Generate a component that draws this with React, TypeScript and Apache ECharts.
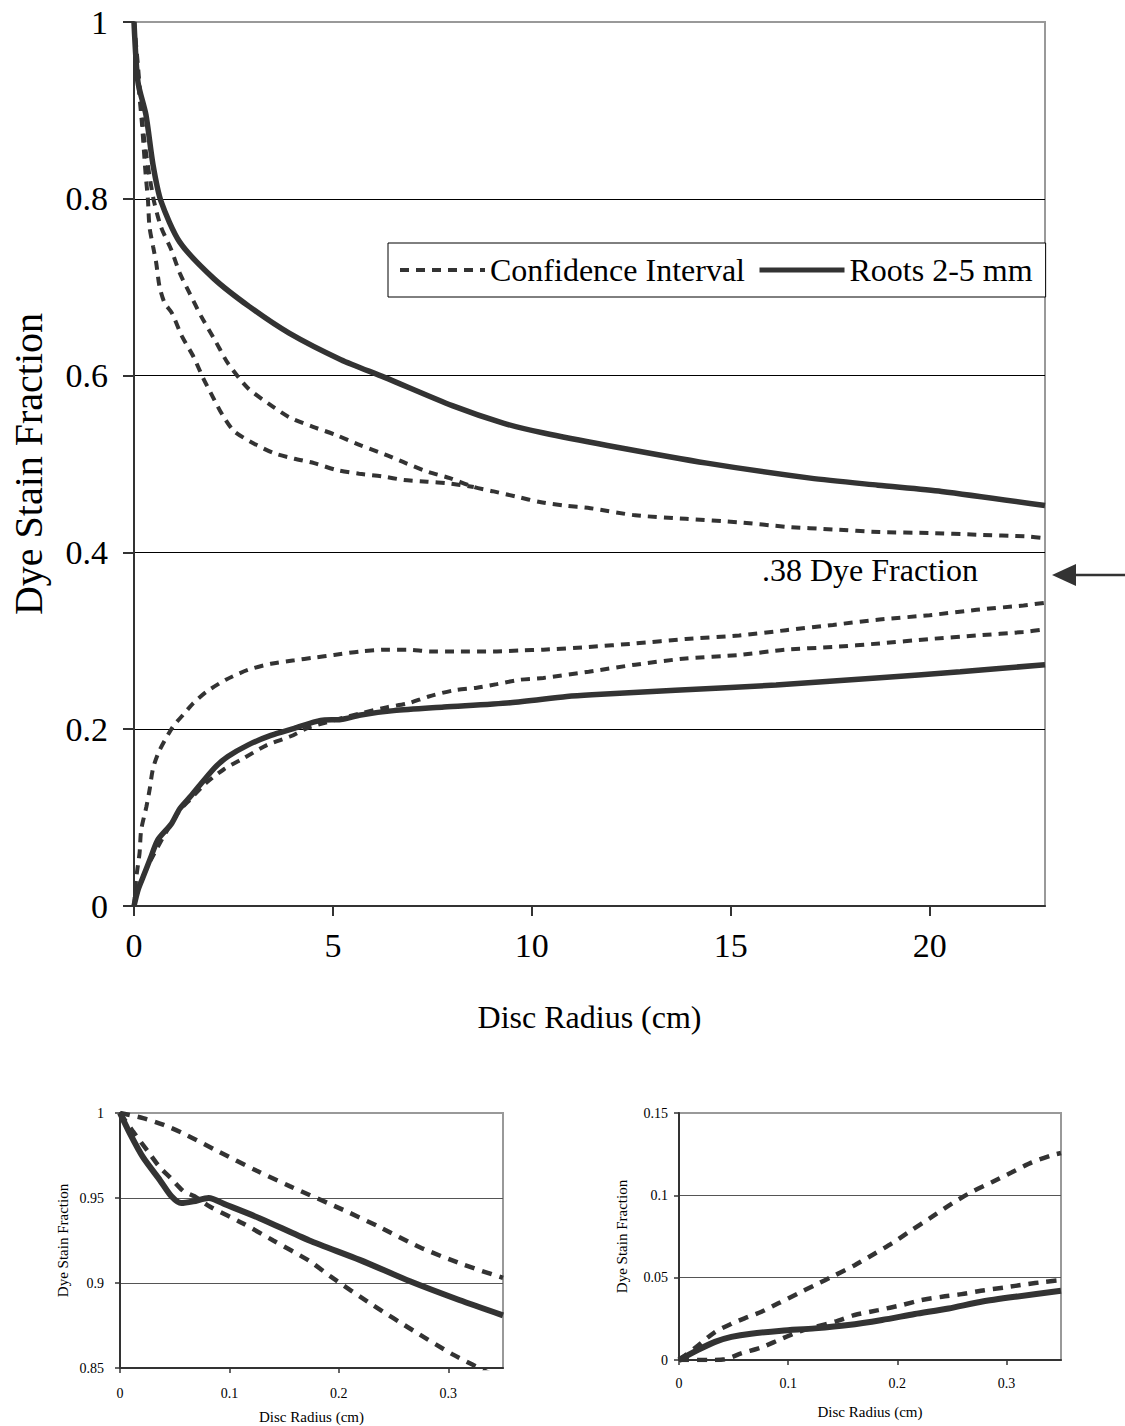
import React, { useEffect, useRef } from "react";
import * as echarts from "echarts";

// ---------- Main chart data: [disc radius (cm), dye stain fraction] ----------
const rootsUpper: [number, number][] = [
  [0, 1], [0.1, 0.932], [0.3, 0.895], [0.48, 0.838], [0.68, 0.797], [1.15, 0.751],
  [2.0, 0.71], [2.9, 0.678], [3.9, 0.648], [5.2, 0.618], [6.3, 0.598], [8.0, 0.566],
  [9.3, 0.546], [10.3, 0.535], [11.9, 0.521], [14.4, 0.501], [17.0, 0.484],
  [18.7, 0.476], [20.3, 0.469], [22.9, 0.453],
];
const rootsLower: [number, number][] = [
  [0, 0], [0.1, 0.018], [0.23, 0.033], [0.43, 0.056], [0.6, 0.075], [0.94, 0.093],
  [1.15, 0.11], [1.44, 0.125], [2.02, 0.156], [2.36, 0.169], [2.86, 0.182],
  [3.44, 0.193], [4.03, 0.201], [4.69, 0.21], [5.2, 0.211], [5.7, 0.216],
  [6.53, 0.221], [7.79, 0.225], [9.46, 0.23], [10.88, 0.237], [11.51, 0.239],
  [13.61, 0.244], [16.14, 0.25], [18.66, 0.258], [20.77, 0.265], [22.9, 0.273],
];
const ciUpperA: [number, number][] = [
  [0, 1], [0.1, 0.95], [0.25, 0.87], [0.48, 0.802], [0.68, 0.768], [0.94, 0.742],
  [1.15, 0.716], [1.4, 0.693], [1.69, 0.667], [2.06, 0.638], [2.36, 0.614],
  [2.86, 0.586], [3.36, 0.569], [3.9, 0.553], [4.5, 0.542], [5.07, 0.533],
  [5.7, 0.521], [6.3, 0.511], [6.83, 0.501], [7.4, 0.491], [7.94, 0.484],
  [8.54, 0.474], [9.04, 0.469], [9.62, 0.463], [10.2, 0.457], [10.8, 0.453],
  [11.47, 0.45], [12.6, 0.442], [13.87, 0.438], [15.21, 0.434], [16.39, 0.429],
  [17.57, 0.426], [18.74, 0.423], [20.0, 0.422], [21.18, 0.42], [22.45, 0.418],
  [22.9, 0.416],
];
const ciUpperB: [number, number][] = [
  [0, 1], [0.1, 0.935], [0.2, 0.885], [0.29, 0.829], [0.35, 0.799], [0.39, 0.768],
  [0.48, 0.746], [0.56, 0.727], [0.64, 0.701], [0.77, 0.682], [0.95, 0.671],
  [1.2, 0.645], [1.5, 0.621], [1.73, 0.598], [1.98, 0.576], [2.23, 0.555],
  [2.52, 0.537], [3.02, 0.523], [3.53, 0.512], [4.03, 0.506], [4.53, 0.501],
  [5.11, 0.493], [5.66, 0.489], [6.24, 0.486], [6.78, 0.482], [7.37, 0.48],
  [7.9, 0.478], [8.54, 0.474],
];
const ciLowerC: [number, number][] = [
  [0, 0], [0.06, 0.033], [0.14, 0.06], [0.18, 0.086], [0.31, 0.112], [0.39, 0.131],
  [0.48, 0.156], [0.64, 0.176], [0.98, 0.203], [1.23, 0.216], [1.48, 0.229],
  [1.81, 0.242], [2.31, 0.256], [2.86, 0.267], [3.44, 0.274], [4.03, 0.278],
  [4.53, 0.281], [5.03, 0.284], [5.7, 0.288], [6.37, 0.29], [6.87, 0.29],
  [7.45, 0.288], [8.04, 0.288], [9.12, 0.288], [9.71, 0.289], [10.29, 0.29],
  [11.43, 0.293], [12.6, 0.297], [13.87, 0.302], [15.21, 0.306], [16.39, 0.312],
  [17.57, 0.318], [18.74, 0.324], [20.0, 0.329], [21.18, 0.335], [22.36, 0.34],
  [22.9, 0.343],
];
const ciLowerD: [number, number][] = [
  [0, 0], [0.1, 0.02], [0.4, 0.05], [0.8, 0.083], [1.15, 0.108], [1.4, 0.12],
  [1.81, 0.139], [2.27, 0.155], [2.75, 0.167], [3.34, 0.182], [3.94, 0.192],
  [4.4, 0.202], [5.7, 0.218], [6.37, 0.225], [6.87, 0.229], [7.41, 0.237],
  [8.04, 0.244], [8.62, 0.247], [9.12, 0.251], [9.71, 0.256], [10.29, 0.258],
  [11.43, 0.265], [12.6, 0.273], [13.87, 0.28], [15.21, 0.284], [16.39, 0.29],
  [17.57, 0.293], [18.74, 0.297], [20.0, 0.302], [21.18, 0.306], [22.36, 0.31],
  [22.9, 0.313],
];

// ---------- Inset 1 (upper curve near centre) ----------
const inset1Roots: [number, number][] = [
  [0, 1], [0.009, 0.988], [0.021, 0.974], [0.0365, 0.9605], [0.047, 0.951],
  [0.056, 0.947], [0.067, 0.948], [0.081, 0.95], [0.097, 0.946], [0.128, 0.938],
  [0.173, 0.925], [0.219, 0.9136], [0.265, 0.901], [0.31, 0.89], [0.35, 0.881],
];
const inset1CiHigh: [number, number][] = [
  [0, 1], [0.021, 0.997], [0.04, 0.993], [0.061, 0.987], [0.091, 0.977],
  [0.125, 0.966], [0.155, 0.957], [0.204, 0.943], [0.237, 0.933], [0.274, 0.921],
  [0.313, 0.911], [0.35, 0.903],
];
const inset1CiLow: [number, number][] = [
  [0, 1], [0.012, 0.989], [0.026, 0.977], [0.0365, 0.968], [0.046, 0.962],
  [0.058, 0.954], [0.068, 0.951], [0.082, 0.945], [0.1125, 0.935], [0.14, 0.925],
  [0.173, 0.913], [0.192, 0.904], [0.231, 0.887], [0.268, 0.872], [0.304, 0.858],
  [0.322, 0.852], [0.35, 0.843],
];

// ---------- Inset 2 (lower curve near centre) ----------
const inset2Roots: [number, number][] = [
  [0, 0], [0.017, 0.006], [0.033, 0.011], [0.048, 0.014], [0.066, 0.016],
  [0.094, 0.0178], [0.1245, 0.0192], [0.155, 0.0212], [0.186, 0.0243],
  [0.216, 0.0279], [0.247, 0.0313], [0.277, 0.0354], [0.308, 0.0384], [0.35, 0.042],
];
const inset2CiHigh: [number, number][] = [
  [0, 0], [0.016, 0.008], [0.033, 0.017], [0.048, 0.022], [0.06, 0.0253],
  [0.0756, 0.0293], [0.091, 0.0344], [0.109, 0.0404], [0.1245, 0.0455],
  [0.143, 0.0515], [0.161, 0.0576], [0.1795, 0.0647], [0.195, 0.0708],
  [0.213, 0.0788], [0.2316, 0.0869], [0.25, 0.095], [0.268, 0.102],
  [0.2866, 0.108], [0.305, 0.114], [0.3233, 0.12], [0.3417, 0.1243], [0.35, 0.1257],
];
const inset2CiLow: [number, number][] = [
  [0, 0], [0.027, 0], [0.042, 0.0004], [0.057, 0.004], [0.0756, 0.0077],
  [0.091, 0.012], [0.109, 0.017], [0.1245, 0.02], [0.143, 0.0233], [0.161, 0.0273],
  [0.1826, 0.0303], [0.204, 0.0333], [0.222, 0.0364], [0.241, 0.0384],
  [0.259, 0.04], [0.28, 0.0424], [0.299, 0.0441], [0.317, 0.0459],
  [0.3355, 0.0475], [0.35, 0.0485],
];

// ---------- Axis ticks ----------
const mainXTicks = [0, 5, 10, 15, 20];
const mainXMax = 22.9;
const mainYTickStep = 0.2;
const insetXTicks = [0, 0.1, 0.2, 0.3];
const insetXMax = 0.35;
const inset1YRange = [0.85, 1];
const inset2YRange = [0, 0.15];
const insetYTickStep = 0.05;

const CI_NAME = "Confidence Interval";
const ROOTS_NAME = "Roots 2-5 mm";
const FONT = '"Liberation Serif", "Times New Roman", serif';
const INK = "#333";

function lineSeries(
  name: string,
  data: [number, number][],
  axis: number,
  width: number,
  dash: number[] | null
) {
  return {
    type: "line",
    name,
    data,
    xAxisIndex: axis,
    yAxisIndex: axis,
    symbol: "none",
    smooth: 0.25,
    silent: true,
    z: dash ? 2 : 3,
    lineStyle: { color: INK, width, type: dash ? dash : "solid", cap: "butt" },
    itemStyle: { color: INK },
  };
}

function xAxisFor(grid: number, big: boolean) {
  return {
    type: "value",
    gridIndex: grid,
    min: 0,
    max: big ? mainXMax : insetXMax,
    interval: big ? 5 : 0.1,
    axisLine: { show: true, onZero: false, lineStyle: { color: INK, width: 2 } },
    axisTick: {
      show: true,
      length: big ? 10 : 5,
      customValues: big ? mainXTicks : insetXTicks,
      lineStyle: { color: INK, width: big ? 2 : 1.5 },
    },
    axisLabel: {
      show: true,
      customValues: big ? mainXTicks : insetXTicks,
      color: "#000",
      fontFamily: FONT,
      fontSize: big ? 34 : 14,
      margin: big ? 22 : grid === 1 ? 18 : 16,
    },
    splitLine: { show: false },
    name: "Disc Radius (cm)",
    nameLocation: "middle",
    nameGap: big ? 95 : grid === 1 ? 41 : 44,
    nameTextStyle: { color: "#000", fontFamily: FONT, fontSize: big ? 32 : 15 },
  };
}

function yAxisFor(grid: number, min: number, max: number, step: number) {
  const big = grid === 0;
  return {
    type: "value",
    gridIndex: grid,
    min,
    max,
    interval: step,
    axisLine: { show: true, onZero: false, lineStyle: { color: INK, width: 2 } },
    axisTick: { show: true, length: big ? 11 : 5, lineStyle: { color: INK, width: big ? 2 : 1.5 } },
    axisLabel: {
      color: "#000",
      fontFamily: FONT,
      fontSize: big ? 34 : 14,
      margin: big ? 26 : grid === 1 ? 16 : 11,
    },
    splitLine: {
      show: true,
      showMinLine: false,
      showMaxLine: false,
      lineStyle: { color: big ? "#000" : "#555", width: 1 },
    },
    name: "Dye Stain Fraction",
    nameLocation: "middle",
    nameGap: big ? 86 : 50,
    nameTextStyle: { color: "#000", fontFamily: FONT, fontSize: big ? 40 : 15 },
  };
}

export default function App() {
  const ref = useRef<HTMLDivElement>(null);

  useEffect(() => {
    if (!ref.current) return;
    const chart = echarts.init(ref.current, null, { renderer: "svg" });
    const mainDash = [9, 7];
    const insetDash = [10, 8];
    const option: any = {
      animation: false,
      backgroundColor: "#fff",
      textStyle: { fontFamily: FONT },
      grid: [
        { left: 131, top: 22, width: 914, height: 884, show: true, borderColor: "#999", borderWidth: 2 },
        { left: 120, top: 1113, width: 383, height: 255, show: true, borderColor: "#999", borderWidth: 2 },
        { left: 679, top: 1113, width: 382, height: 247, show: true, borderColor: "#999", borderWidth: 2 },
      ],
      xAxis: [xAxisFor(0, true), xAxisFor(1, false), xAxisFor(2, false)],
      yAxis: [
        yAxisFor(0, 0, 1, mainYTickStep),
        yAxisFor(1, inset1YRange[0], inset1YRange[1], insetYTickStep),
        yAxisFor(2, inset2YRange[0], inset2YRange[1], insetYTickStep),
      ],
      legend: {
        show: true,
        left: 388,
        top: 243,
        orient: "horizontal",
        padding: [11, 13, 11, 10],
        itemGap: 12,
        itemWidth: 85,
        itemHeight: 14,
        borderColor: "#000",
        borderWidth: 1,
        backgroundColor: "#fff",
        selectedMode: false,
        itemStyle: { opacity: 0, borderWidth: 0 },
        textStyle: { color: "#000", fontFamily: FONT, fontSize: 32 },
        data: [
          { name: CI_NAME, lineStyle: { width: 4 }, itemStyle: { opacity: 0, borderWidth: 0 } },
          { name: ROOTS_NAME, lineStyle: { width: 5 }, itemStyle: { opacity: 0, borderWidth: 0 } },
        ],
      },
      series: [
        lineSeries(CI_NAME, ciUpperA, 0, 4, mainDash),
        lineSeries(CI_NAME, ciUpperB, 0, 4, mainDash),
        lineSeries(CI_NAME, ciLowerC, 0, 4, mainDash),
        lineSeries(CI_NAME, ciLowerD, 0, 4, mainDash),
        lineSeries(ROOTS_NAME, rootsUpper, 0, 5.5, null),
        lineSeries(ROOTS_NAME, rootsLower, 0, 5.5, null),
        lineSeries(CI_NAME, inset1CiHigh, 1, 4.5, insetDash),
        lineSeries(CI_NAME, inset1CiLow, 1, 4.5, insetDash),
        lineSeries(ROOTS_NAME, inset1Roots, 1, 6, null),
        lineSeries(CI_NAME, inset2CiHigh, 2, 4.5, insetDash),
        lineSeries(CI_NAME, inset2CiLow, 2, 4.5, insetDash),
        lineSeries(ROOTS_NAME, inset2Roots, 2, 6, null),
      ],
      graphic: [
        {
          type: "text",
          left: 762,
          top: 554,
          style: { text: ".38 Dye Fraction", fill: "#000", font: `32px ${FONT}` },
          silent: true,
        },
        {
          type: "line",
          shape: { x1: 1125, y1: 575, x2: 1068, y2: 575 },
          style: { stroke: INK, lineWidth: 2.5 },
          silent: true,
        },
        {
          type: "polygon",
          shape: { points: [[1052, 575], [1076, 564], [1076, 586]] },
          style: { fill: INK },
          silent: true,
        },
      ],
    };
    chart.setOption(option);
    return () => chart.dispose();
  }, []);

  return (
    <div
      ref={ref}
      style={{ position: "absolute", left: 0, top: 0, width: 1125, height: 1426, background: "#fff" }}
    />
  );
}
